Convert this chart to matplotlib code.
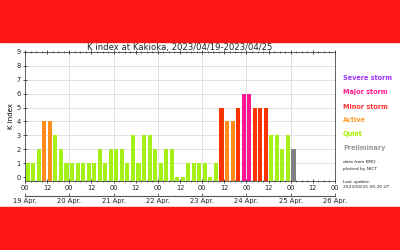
import numpy as np
import matplotlib
matplotlib.use('Agg')
import matplotlib.pyplot as plt
from matplotlib.patches import Rectangle

# K index, 3-hourly, from 2023/04/19 00 UT
k_index = [1, 1, 2, 4, 4, 3, 2, 1,
           1, 1, 1, 1, 1, 2, 1, 2,
           2, 2, 1, 3, 1, 3, 3, 2,
           1, 2, 2, 0, 0, 1, 1, 1,
           1, 0, 1, 5, 4, 4, 5, 6,
           6, 5, 5, 5, 3, 3, 2, 3,
           2]
n_prelim = 1  # last values are preliminary
day_labels = ['19 Apr.', '20 Apr.', '21 Apr.', '22 Apr.', '23 Apr.', '24 Apr.', '25 Apr.', '26 Apr.']
hour_labels = ['00', '12']

legend_names = ['Severe storm', 'Major storm', 'Minor storm', 'Active', 'Quiet', 'Preliminary']
legend_colors = ['#a033ff', '#ff1a8c', '#ff3333', '#ff9a2e', '#a8f000', '#999999']

c_quiet = '#a6f01a'
c_active = '#ff8c1a'
c_minor = '#ff3300'
c_major = '#ff1493'
c_severe = '#9b30ff'
c_prelim = '#808080'


def kcolor(k):
    if k >= 7:
        return c_severe
    if k == 6:
        return c_major
    if k == 5:
        return c_minor
    if k == 4:
        return c_active
    return c_quiet


fig = plt.figure(figsize=(4, 2.5), dpi=100)
fig.patches.append(Rectangle((0, 1 - 42 / 250), 1, 42 / 250, transform=fig.transFigure,
                             color='#fc1616', zorder=0))
fig.patches.append(Rectangle((0, 0), 1, 43.5 / 250, transform=fig.transFigure,
                             color='#fc1616', zorder=0))

ax = fig.add_axes([0.0625, 0.277, 0.775, 0.516])

ybot = -0.25
n = len(k_index)
x = np.arange(n) * 3 + 1.5
colors = [kcolor(k) for k in k_index]
for i in range(n - n_prelim, n):
    colors[i] = c_prelim
heights = [k - ybot for k in k_index]
ax.bar(x, heights, width=2.2, bottom=ybot, color=colors, zorder=2)

ax.set_xlim(0, 168)
ax.set_ylim(ybot, 9)
ax.set_yticks(range(10))
ax.set_xticks(range(0, 169, 12))
ax.set_xticklabels([hour_labels[(i // 12) % 2] for i in range(0, 169, 12)])
ax.set_xticks(range(0, 169, 3), minor=True)
ax.tick_params(axis='both', labelsize=4.8, length=3, width=0.6, pad=1.5, colors='#333333',
               labelcolor='#222222')
ax.tick_params(axis='x', which='both', top=True, direction='inout')
ax.tick_params(axis='x', which='minor', length=2, width=0.4)
ax.tick_params(axis='y', direction='inout')

for yy in range(1, 10):
    ax.axhline(yy, color='#dddddd', lw=0.6, zorder=1)
for xx in range(24, 168, 24):
    ax.axvline(xx, color='#dddddd', lw=0.6, zorder=1)

for s in ax.spines.values():
    s.set_linewidth(0.6)
    s.set_color('#444444')

ax.set_ylabel('K index', fontsize=5, labelpad=2)
ax.set_title('K index at Kakioka, 2023/04/19-2023/04/25', fontsize=6.1, pad=1.5, color='#222222')

sec = ax.secondary_xaxis(-0.12)
sec.set_xticks(range(0, 169, 24))
sec.set_xticklabels(day_labels)
sec.tick_params(labelsize=4.9, length=2, width=0.6, direction='in', pad=1.5,
                color='#555555', labelcolor='#222222')
sec.spines['bottom'].set_linewidth(0.8)
sec.spines['bottom'].set_color('#555555')

ys = [78.3, 92.3, 106.7, 120, 134, 148.3]
for name, col, yp in zip(legend_names, legend_colors, ys):
    fig.text(343 / 400, 1 - yp / 250, name, color=col, fontsize=4.7, fontweight='bold', va='center')

fig.text(343 / 400, 1 - 162.3 / 250, 'data from KMO', fontsize=3.2, va='center', color='#222222')
fig.text(343 / 400, 1 - 168.7 / 250, 'plotted by NICT', fontsize=3.2, va='center', color='#222222')
fig.text(343 / 400, 1 - 181.7 / 250, 'Last update:', fontsize=3.2, va='center', color='#222222')
fig.text(343 / 400, 1 - 187.3 / 250, '2023/04/25 05:20 UT', fontsize=3.2, va='center', color='#222222')

fig.savefig('out.png', dpi=100)
